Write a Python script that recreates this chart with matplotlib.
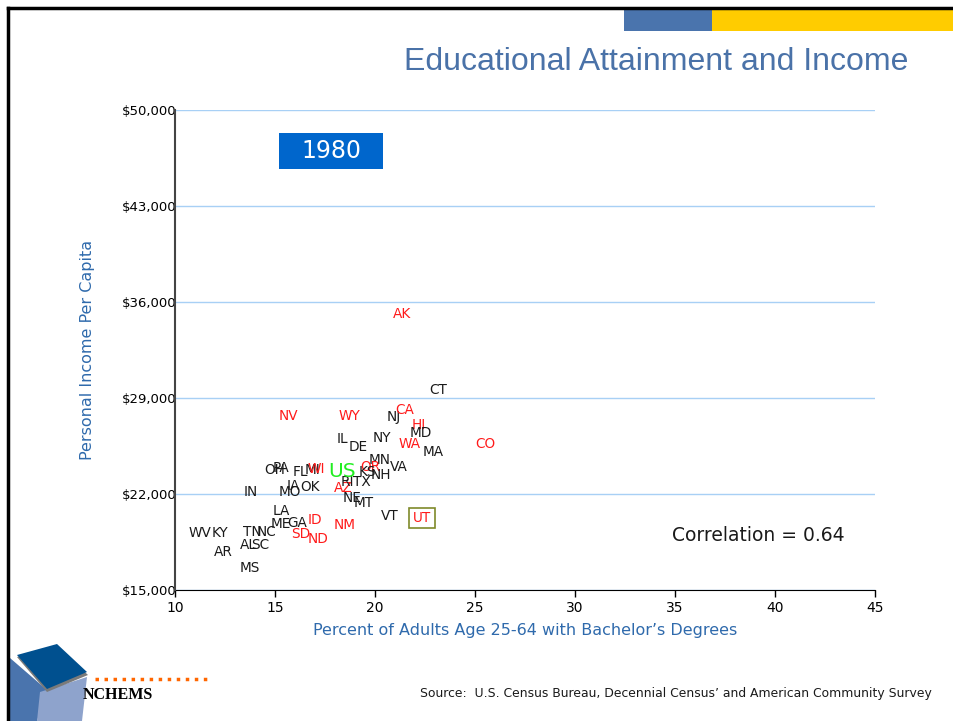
import matplotlib
matplotlib.use("Agg")
import matplotlib.pyplot as plt
from matplotlib.patches import Rectangle, Polygon
from matplotlib.lines import Line2D

# 1980: % of adults 25-64 with bachelor's degrees vs personal income per capita
states = ["AK", "CT", "NV", "WY", "NJ", "CA", "HI", "MD", "IL", "NY",
          "WA", "CO", "DE", "MA", "MN", "VA", "OR", "KS", "NH", "MI",
          "WI", "PA", "OH", "FL", "IA", "OK", "MO", "IN", "AZ", "RI",
          "TX", "NE", "MT", "VT", "UT", "NM", "ID", "SD", "ND", "GA",
          "ME", "LA", "NC", "TN", "WV", "KY", "AL", "SC", "AR", "MS"]
bachelor_pct = [21.35, 23.15, 15.65, 18.7, 20.95, 21.5, 22.2, 22.3, 18.35, 20.35,
                21.75, 25.5, 19.15, 22.9, 20.25, 21.2, 19.75, 19.6, 20.3, 16.9,
                17.05, 15.3, 15.0, 16.25, 15.9, 16.75, 15.75, 13.8, 18.4, 18.6,
                19.35, 18.85, 19.45, 20.75, 22.35, 18.5, 17.0, 16.3, 17.15, 16.1,
                15.3, 15.3, 14.6, 13.85, 11.25, 12.25, 13.65, 14.25, 12.4, 13.75]
income = [35125, 29583, 27688, 27688, 27615, 28125, 27031, 26448, 26010, 26083,
          25646, 25646, 25427, 25063, 24479, 23969, 23969, 23604, 23385, 23750,
          23823, 23896, 23750, 23604, 22583, 22510, 22146, 22146, 22438, 22875,
          22875, 21708, 21344, 20396, 20250, 19740, 20104, 19083, 18719, 19885,
          19813, 20760, 19229, 19229, 19156, 19156, 18281, 18281, 17771, 16604]
red_states = ["AK", "NV", "WY", "CA", "HI", "WA", "CO", "OR", "WI", "AZ",
              "UT", "NM", "ID", "SD", "ND"]
us_pct, us_income = 18.35, 23677

y_ticks = [15000, 22000, 29000, 36000, 43000, 50000]
x_ticks = [10, 15, 20, 25, 30, 35, 40, 45]

W, H = 954, 721
fig = plt.figure(figsize=(W / 100, H / 100), dpi=100)


def fx(px):
    return px / W


def fy(py):
    return 1 - py / H


# slide frame and top bars
fig.add_artist(Line2D([fx(8), fx(8)], [fy(721), fy(8)], color="black", lw=2.5))
fig.add_artist(Line2D([fx(8), fx(954)], [fy(8), fy(8)], color="black", lw=2.5))
fig.add_artist(Rectangle((fx(624), fy(31)), fx(88), 21 / H, color="#4a74ad", lw=0))
fig.add_artist(Rectangle((fx(712), fy(31)), fx(242), 21 / H, color="#ffcc00", lw=0))

fig.text(fx(908), fy(62), "Educational Attainment and Income", ha="right", va="center",
         fontsize=23, color="#4a72a8", family=["Liberation Sans", "DejaVu Sans"])

ax = fig.add_axes([fx(175), fy(590), 700 / W, 480 / H])
ax.set_xlim(10, 45)
ax.set_ylim(15000, 50000)
ax.set_xticks(x_ticks)
ax.set_yticks(y_ticks)
ax.set_yticklabels([f"${v:,}" for v in y_ticks])
ax.tick_params(axis="y", length=0, pad=-1, labelsize=9.5)
ax.tick_params(axis="x", length=5, width=1, labelsize=10, pad=3)
ax.grid(axis="y", color="#a8d0f5", lw=1)
ax.set_axisbelow(True)
for s in ["top", "right"]:
    ax.spines[s].set_visible(False)
ax.spines["left"].set_color("#444444")
ax.spines["left"].set_linewidth(1.5)
ax.spines["bottom"].set_color("black")
ax.spines["left"].set_zorder(5)

ax.set_xlabel("Percent of Adults Age 25-64 with Bachelor\u2019s Degrees", color="#2f6aac",
              fontsize=11.5, labelpad=6)
ax.set_ylabel("Personal Income Per Capita", color="#2f6aac", fontsize=11.5, labelpad=19)

for st, xv, yv in zip(states, bachelor_pct, income):
    color = "#ff1a1a" if st in red_states else "#1a1a1a"
    kw = {}
    if st == "UT":
        kw["bbox"] = dict(boxstyle="square,pad=0.25", fc="none", ec="#7f8a2a", lw=1.2)
    ax.text(xv, yv, st, ha="center", va="center", fontsize=9.8, color=color, **kw)
ax.text(us_pct, us_income, "US", ha="center", va="center", fontsize=14.5, color="#22ee22")

ax.text(39.15, 18940, "Correlation = 0.64", ha="center", va="center", fontsize=13.5, color="#1a1a1a")

fig.add_artist(Rectangle((fx(279), fy(169)), 104 / W, 36 / H, color="#0066cc", lw=0))
fig.text(fx(331), fy(151), "1980", ha="center", va="center", fontsize=17, color="white")

fig.text(fx(932), fy(693), "Source:  U.S. Census Bureau, Decennial Census\u2019 and American Community Survey",
         ha="right", va="center", fontsize=8.9, color="#1a1a1a")

# logo
fig.add_artist(Polygon([(fx(10), fy(658)), (fx(47), fy(690)), (fx(37), fy(721)), (fx(10), fy(721))],
                       closed=True, fc="#4a74ad", ec="none"))
fig.add_artist(Polygon([(fx(40), fy(692)), (fx(87), fy(677)), (fx(82), fy(721)), (fx(37), fy(721))],
                       closed=True, fc="#8ea3cc", ec="none"))
fig.add_artist(Polygon([(fx(17), fy(657)), (fx(57), fy(646)), (fx(88), fy(675)), (fx(47), fy(692))],
                       closed=True, fc="#7a7a7a", ec="none"))
fig.add_artist(Polygon([(fx(17), fy(655)), (fx(57), fy(644)), (fx(87), fy(672)), (fx(47), fy(689))],
                       closed=True, fc="#00508f", ec="none"))
fig.add_artist(Line2D([fx(95), fx(211)], [fy(679), fy(679)], color="#ff6600", lw=2.5,
                      linestyle=(0, (1, 1.6))))
fig.text(fx(118), fy(695), "NCHEMS", ha="center", va="center", fontsize=11.5, fontweight="heavy",
         color="black", family=["Liberation Serif", "DejaVu Serif"])

fig.savefig("out.png", dpi=100)
